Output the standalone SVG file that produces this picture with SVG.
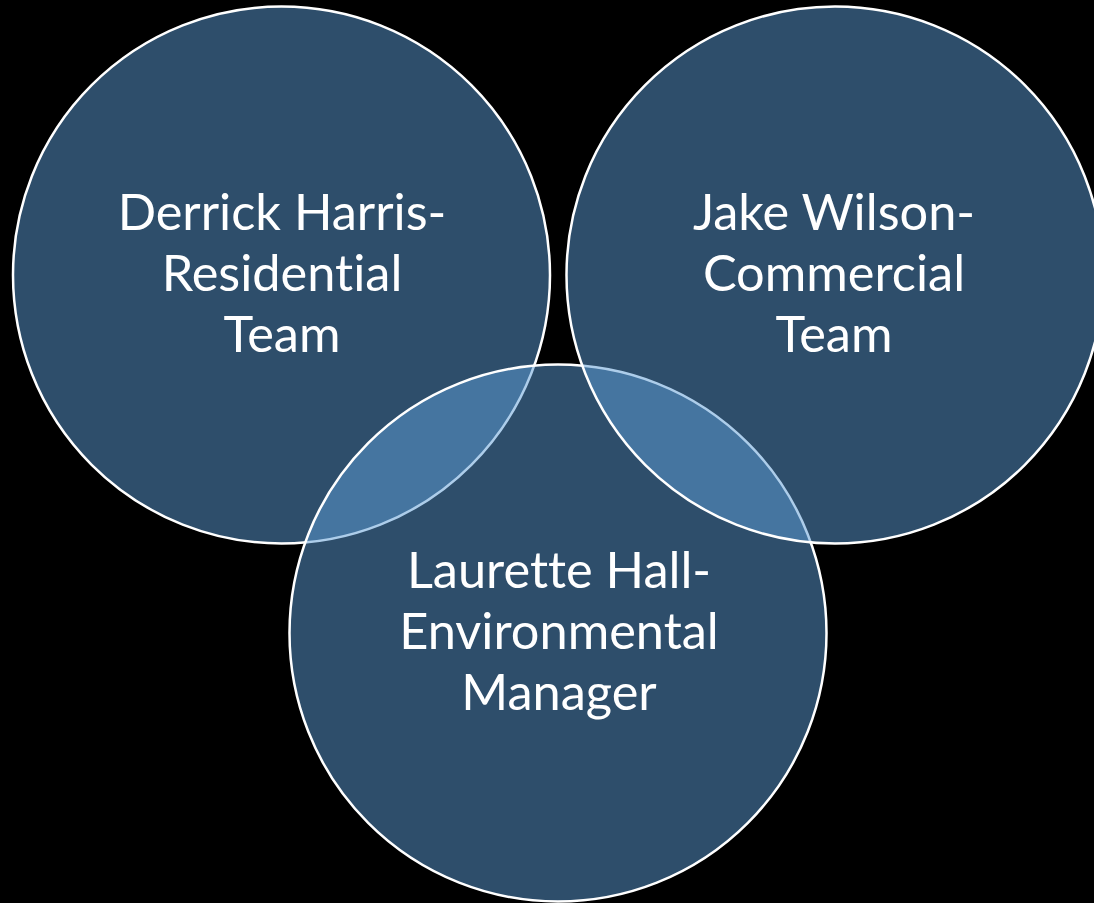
<svg xmlns="http://www.w3.org/2000/svg" width="1094" height="903" viewBox="0 0 1094 903">
<style>
.c{fill:#5b9bd5;fill-opacity:0.5;stroke:#ffffff;stroke-width:2.5}
.t{font-family:Lato,"Open Sans","Liberation Sans",sans-serif;font-size:50.5px;fill:#ffffff;text-anchor:middle;font-variant-ligatures:none;font-feature-settings:"liga" 0,"clig" 0,"dlig" 0}
</style>
<rect x="0" y="0" width="1094" height="903" fill="#000000"/>
<g id="node-derrick">
<circle class="c" cx="281.5" cy="275" r="268.5"/>
</g>
<g id="node-laurette">
<circle class="c" cx="558" cy="633" r="268.5"/>
</g>
<g id="node-jake">
<circle class="c" cx="835" cy="275" r="268.5"/>
</g>
<g id="labels">
<text class="t" x="282" y="230">Derrick Harris-</text>
<text class="t" x="282" y="291">Residential</text>
<text class="t" x="282" y="352">Team</text>
<text class="t" x="834" y="230">Jake Wilson-</text>
<text class="t" x="834" y="291">Commercial</text>
<text class="t" x="834" y="352">Team</text>
<text class="t" x="559" y="588">Laurette Hall-</text>
<text class="t" x="559" y="649">Environmental</text>
<text class="t" x="559" y="710">Manager</text>
</g>
</svg>
